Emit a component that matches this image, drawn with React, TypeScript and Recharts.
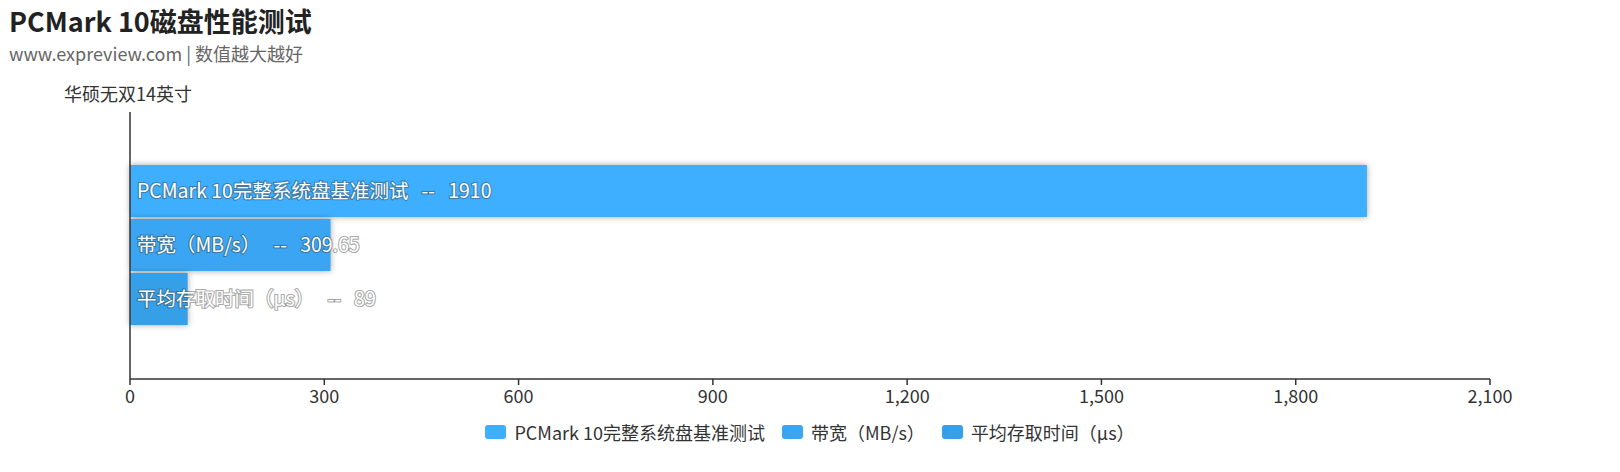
import { BarChart, Bar, XAxis, YAxis, LabelList } from "recharts";

const FONT = '"Noto Sans CJK SC", "Noto Sans", sans-serif';

const categories = ["华硕无双14英寸"];
const seriesNames = ["PCMark 10完整系统盘基准测试", "带宽（MB/s）", "平均存取时间（μs）"];
const seriesKeys = ["full", "bandwidth", "latency"];
const seriesColors = ["#3eaefe", "#3aa6f3", "#35a0e8"];
const fullValues = [1910];
const bandwidthValues = [309.65];
const latencyValues = [89];
const xTicks = [0, 300, 600, 900, 1200, 1500, 1800, 2100];

const data = categories.map((name, i) => ({
  name,
  full: fullValues[i],
  bandwidth: bandwidthValues[i],
  latency: latencyValues[i],
}));

function ShadowBar(props: any) {
  const { x, y, width, height, fill } = props;
  if (!width || width <= 0) return null;
  return (
    <rect
      x={x}
      y={y}
      width={width}
      height={height}
      fill={fill}
      style={{ filter: "drop-shadow(0 0 3px rgba(0,0,0,0.35))" }}
    />
  );
}

function makeLabel(seriesName: string) {
  return (props: any) => {
    const { x, y, height, value } = props;
    return (
      <text
        x={x + 7}
        y={y + height / 2 - 2}
        dominantBaseline="central"
        fill="#fff"
        stroke="rgba(60,60,60,0.45)"
        strokeWidth={2.2}
        paintOrder="stroke"
        fontSize={19.5}
        fontFamily={FONT}
        style={{ whiteSpace: "pre" }}
      >
        {`${seriesName}   --   ${value}`}
      </text>
    );
  };
}

function LegendBox() {
  return (
    <div style={{ position: "absolute", left: 0, top: 419, width: 1620, display: "flex", justifyContent: "center", alignItems: "center", fontSize: 18, color: "#333" }}>
      {seriesNames.map((n, i) => (
        <div key={n} style={{ display: "flex", alignItems: "center", marginRight: i < 2 ? 17 : 0 }}>
          <span style={{ display: "inline-block", width: 21, height: 14, borderRadius: 3, background: seriesColors[i], marginRight: 8 }} />
          <span>{n}</span>
        </div>
      ))}
    </div>
  );
}

export default function App() {
  return (
    <div style={{ position: "absolute", left: 0, top: 0, width: 1620, height: 472, background: "#fff", fontFamily: FONT }}>
      <div style={{ position: "absolute", left: 9, top: 1, fontSize: 27, fontWeight: 700, color: "#222", whiteSpace: "nowrap" }}>
        PCMark 10磁盘性能测试
      </div>
      <div style={{ position: "absolute", left: 9, top: 40, fontSize: 18, color: "#666", whiteSpace: "nowrap" }}>
        www.expreview.com | 数值越大越好
      </div>
      <div style={{ position: "absolute", left: 128, top: 80, transform: "translateX(-50%)", fontSize: 18, color: "#333", whiteSpace: "nowrap" }}>
        {categories[0]}
      </div>
      <div style={{ position: "absolute", left: 0, top: 0 }}>
        <BarChart
          width={1620}
          height={472}
          data={data}
          layout="vertical"
          margin={{ top: 112, right: 130, bottom: 63, left: 70 }}
          barCategoryGap={53}
          barGap={2}
        >
          <XAxis
            type="number"
            domain={[0, 2100]}
            ticks={xTicks}
            height={30}
            interval={0}
            tickFormatter={(v: number) => v.toLocaleString("en-US")}
            tick={{ fontSize: 18, fill: "#333", fontFamily: FONT, dy: 3 }}
            tickSize={6}
            axisLine={{ stroke: "#333", strokeWidth: 1.5 }}
            tickLine={{ stroke: "#333", strokeWidth: 1.5 }}
          />
          <YAxis
            type="category"
            dataKey="name"
            width={60}
            tick={false}
            tickLine={false}
            axisLine={{ stroke: "#333", strokeWidth: 1.5 }}
          />
          {seriesKeys.map((k, i) => (
            <Bar key={k} dataKey={k} name={seriesNames[i]} fill={seriesColors[i]} shape={<ShadowBar />} isAnimationActive={false}>
              <LabelList dataKey={k} content={makeLabel(seriesNames[i])} />
            </Bar>
          ))}
        </BarChart>
      </div>
      <LegendBox />
    </div>
  );
}
